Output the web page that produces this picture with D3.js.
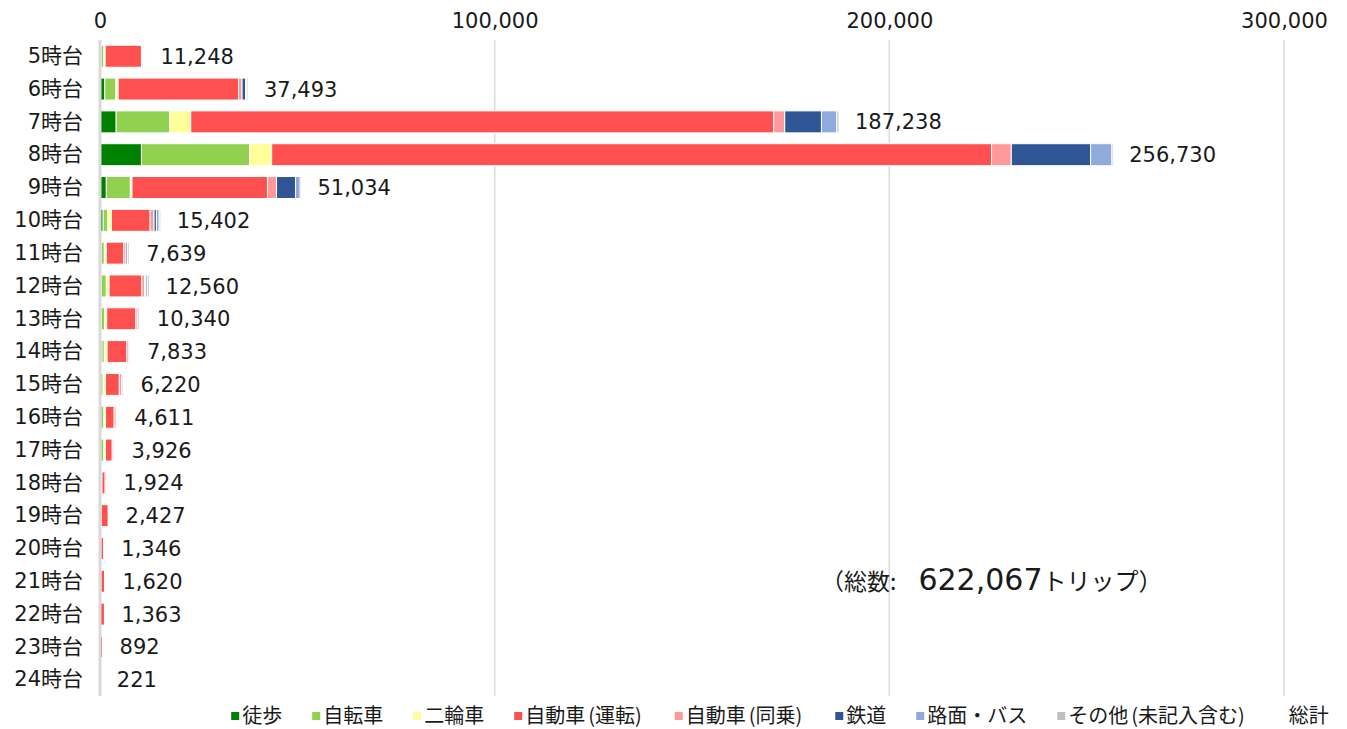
<!DOCTYPE html>
<html>
<head>
<meta charset="utf-8">
<script src="https://cdn.jsdelivr.net/npm/d3@7"></script>
<style>
  body { margin: 0; background: #fff; }
  svg { display: block; font-family: "DejaVu Sans", "Noto Sans CJK JP", sans-serif; }
</style>
</head>
<body>
<svg id="chart" width="1347" height="729"></svg>
<script>
const hours = ["5時台", "6時台", "7時台", "8時台", "9時台", "10時台", "11時台", "12時台", "13時台", "14時台",
  "15時台", "16時台", "17時台", "18時台", "19時台", "20時台", "21時台", "22時台", "23時台", "24時台"];

// values (trips)
const walk      = [300, 1200, 4100, 10500, 1600, 800, 300, 300, 300, 500, 200, 200, 200, 100, 100, 50, 50, 30, 30, 10];
const bicycle   = [700, 2800, 13600, 27400, 6100, 1200, 800, 1300, 900, 600, 600, 800, 800, 200, 100, 100, 100, 50, 50, 10];
const twoWheel  = [300, 600, 5300, 5600, 400, 900, 500, 700, 500, 700, 600, 400, 400, 200, 100, 100, 100, 50, 50, 10];
const carDrive  = [9200, 30500, 147700, 182400, 34334, 9800, 4400, 8300, 7400, 5000, 3500, 2200, 1700, 800, 1800, 700, 900, 1000, 500, 150];
const carRide   = [300, 900, 2800, 5000, 2300, 1000, 600, 700, 500, 500, 600, 500, 400, 300, 200, 250, 300, 150, 200, 30];
const rail      = [200, 900, 9300, 20100, 4800, 600, 400, 300, 300, 200, 300, 200, 200, 100, 50, 50, 50, 30, 20, 5];
const bus       = [100, 300, 3900, 5400, 1200, 700, 400, 500, 200, 200, 200, 200, 100, 100, 50, 50, 50, 30, 20, 5];
const other     = [148, 293, 538, 330, 300, 402, 239, 460, 240, 133, 220, 111, 126, 124, 27, 46, 70, 23, 22, 1];
const totals    = [11248, 37493, 187238, 256730, 51034, 15402, 7639, 12560, 10340, 7833,
  6220, 4611, 3926, 1924, 2427, 1346, 1620, 1363, 892, 221];

const seriesNames = ["徒歩", "自転車", "二輪車", "自動車(運転)", "自動車(同乗)", "鉄道", "路面・バス", "その他(未記入含む)"];
const seriesColors = ["#008000", "#92d050", "#ffff99", "#ff5050", "#ff9999", "#2f5597", "#8faadc", "#bfbfbf"];
const xTicks = [0, 100000, 200000, 300000];
const grandTotalParts = ["（総数:", "622,067", "トリップ）"];

const svg = d3.select("#chart");
const keys = seriesNames.map((d, i) => "s" + i);
const seriesArrays = [walk, bicycle, twoWheel, carDrive, carRide, rail, bus, other];

const rows = hours.map((h, i) => {
  const r = { hour: h, total: totals[i] };
  seriesArrays.forEach((arr, k) => { r[keys[k]] = arr[i]; });
  return r;
});

const xScale = d3.scaleLinear().domain([0, 300000]).range([100, 1284]);
const yScale = d3.scaleBand().domain(hours).range([40, 696]).paddingInner(0.33).paddingOuter(0.16);
const color = d3.scaleOrdinal().domain(keys).range(seriesColors);

// gridlines
svg.append("g")
  .selectAll("line")
  .data(xTicks.slice(1))
  .join("line")
  .attr("x1", (d) => xScale(d)).attr("x2", (d) => xScale(d))
  .attr("y1", 40).attr("y2", 696)
  .attr("stroke", "#d9d9d9").attr("stroke-width", 1.5);

// top axis labels
const xAxis = svg.append("g")
  .attr("transform", "translate(0,28)")
  .call(d3.axisTop(xScale).tickValues(xTicks).tickFormat(d3.format(",")).tickSize(0).tickPadding(0));
xAxis.select(".domain").remove();
xAxis.selectAll("text")
  .attr("font-size", 21).attr("fill", "#1a1a1a")
  .attr("font-family", "\"DejaVu Sans\", \"Noto Sans CJK JP\", sans-serif")
  .attr("dy", "0");

// stacked bars
const stack = d3.stack().keys(keys)(rows);
svg.append("g")
  .selectAll("g")
  .data(stack)
  .join("g")
  .attr("fill", (d) => color(d.key))
  .selectAll("rect")
  .data((d) => d)
  .join("rect")
  .attr("x", (d) => xScale(d[0]))
  .attr("width", (d) => Math.max(0, xScale(d[1]) - xScale(d[0])))
  .attr("y", (d) => yScale(d.data.hour))
  .attr("height", yScale.bandwidth())
  .attr("stroke", "#fff")
  .attr("stroke-width", 1);

// category axis line
svg.append("line")
  .attr("x1", xScale(0)).attr("x2", xScale(0))
  .attr("y1", 40).attr("y2", 696)
  .attr("stroke", "#d9d9d9").attr("stroke-width", 3);

// category labels
const yAxis = svg.append("g")
  .attr("transform", "translate(83,0)")
  .call(d3.axisLeft(yScale).tickSize(0).tickPadding(0));
yAxis.select(".domain").remove();
yAxis.selectAll("text")
  .attr("font-size", 21).attr("fill", "#1a1a1a")
  .attr("font-family", "\"DejaVu Sans\", \"Noto Sans CJK JP\", sans-serif");

// total labels
svg.append("g")
  .selectAll("text")
  .data(rows)
  .join("text")
  .attr("x", (d) => xScale(d.total) + 16)
  .attr("y", (d) => yScale(d.hour) + yScale.bandwidth() / 2)
  .attr("dy", "0.36em")
  .attr("font-size", 21)
  .attr("fill", "#1a1a1a")
  .text((d) => d3.format(",")(d.total));

// grand total note
const note = svg.append("text")
  .attr("x", 821).attr("y", 590)
  .attr("fill", "#1a1a1a");
note.append("tspan").attr("font-family", "\"Noto Sans CJK JP\", sans-serif").attr("font-size", 23).text(grandTotalParts[0]);
note.append("tspan").attr("dx", 22).attr("font-size", 30).text(grandTotalParts[1]);
note.append("tspan").attr("font-family", "\"Noto Sans CJK JP\", sans-serif").attr("font-size", 24).text(grandTotalParts[2]);

// legend
const legend = svg.append("g");
const legendItems = seriesNames.map((n, i) => ({ name: n, color: seriesColors[i] })).concat([{ name: "総計", color: null }]);
const parenPad = 3;
let lx = 0;
legendItems.forEach((item) => {
  const g = legend.append("g");
  if (item.color) {
    g.append("rect").attr("x", lx).attr("y", -4).attr("width", 8).attr("height", 8).attr("fill", item.color);
  }
  const t = g.append("text")
    .attr("x", lx + 11).attr("y", 0).attr("dy", "0.36em")
    .attr("font-family", "\"Noto Sans CJK JP\", sans-serif")
    .attr("font-size", 20).attr("fill", "#1a1a1a");
  let trailing = 0;
  let afterClose = false;
  item.name.split(/([()])/).filter((s) => s.length).forEach((part) => {
    const ts = t.append("tspan").text(part);
    if (part === "(") ts.attr("dx", parenPad);
    if (afterClose) { ts.attr("dx", parenPad); afterClose = false; }
    if (part === ")") afterClose = true;
  });
  if (afterClose) trailing = parenPad;
  lx += 11 + t.node().getBBox().width + trailing + 30;
});
const legendWidth = lx - 30;
legend.attr("transform", `translate(${780 - legendWidth / 2},716)`);
</script>
</body>
</html>
